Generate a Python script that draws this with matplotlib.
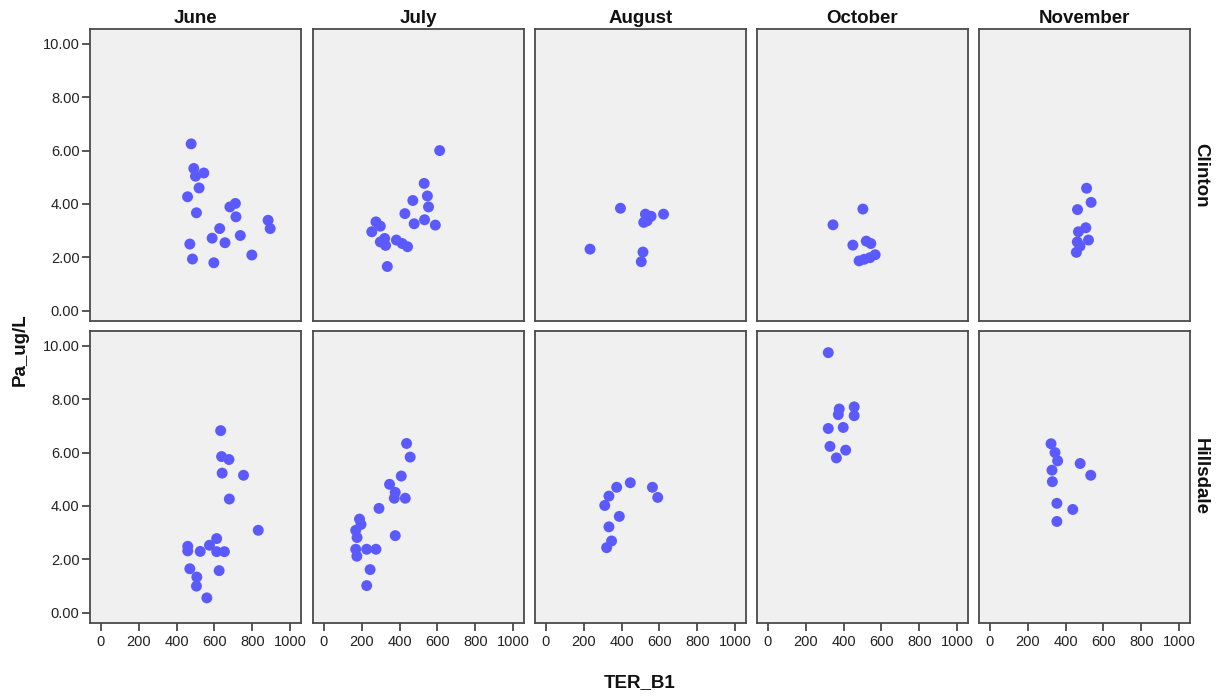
import matplotlib
matplotlib.use("Agg")
import matplotlib.pyplot as plt

plt.rcParams['font.family'] = ['Liberation Sans', 'DejaVu Sans']

months = ["June", "July", "August", "October", "November"]
sites = ["Clinton", "Hillsdale"]

# Clinton
june_clinton_x = [477, 491, 500, 544, 519, 458, 505, 711, 682, 714, 884, 895, 628, 737, 588, 656, 470, 798, 484, 597]
june_clinton_y = [6.25, 5.33, 5.04, 5.16, 4.60, 4.27, 3.67, 4.02, 3.89, 3.52, 3.39, 3.08, 3.08, 2.82, 2.72, 2.55, 2.50, 2.09, 1.94, 1.80]
july_clinton_x = [612, 530, 547, 553, 470, 428, 477, 532, 589, 275, 298, 253, 321, 298, 326, 383, 414, 442, 335]
july_clinton_y = [6.00, 4.77, 4.30, 3.89, 4.13, 3.64, 3.26, 3.41, 3.21, 3.33, 3.17, 2.96, 2.71, 2.58, 2.45, 2.65, 2.52, 2.40, 1.66]
august_clinton_x = [394, 526, 556, 622, 517, 535, 233, 513, 504]
august_clinton_y = [3.84, 3.62, 3.54, 3.62, 3.31, 3.37, 2.31, 2.20, 1.84]
october_clinton_x = [502, 344, 449, 520, 544, 567, 539, 482, 509]
october_clinton_y = [3.81, 3.22, 2.46, 2.61, 2.52, 2.10, 1.99, 1.87, 1.93]
november_clinton_x = [511, 535, 463, 507, 468, 521, 462, 476, 457]
november_clinton_y = [4.59, 4.06, 3.79, 3.11, 2.96, 2.65, 2.58, 2.42, 2.19]

# Hillsdale
june_hillsdale_x = [633, 638, 677, 641, 754, 679, 832, 612, 459, 459, 525, 574, 612, 653, 470, 625, 507, 505, 560]
june_hillsdale_y = [6.82, 5.85, 5.74, 5.23, 5.15, 4.26, 3.09, 2.78, 2.49, 2.32, 2.30, 2.53, 2.29, 2.29, 1.65, 1.58, 1.34, 1.00, 0.56]
july_hillsdale_x = [437, 456, 409, 347, 377, 372, 430, 291, 188, 196, 168, 175, 377, 168, 226, 275, 174, 244, 226]
july_hillsdale_y = [6.34, 5.83, 5.12, 4.81, 4.51, 4.29, 4.29, 3.91, 3.51, 3.31, 3.09, 2.82, 2.89, 2.38, 2.38, 2.38, 2.12, 1.62, 1.02]
august_hillsdale_x = [446, 374, 333, 311, 563, 591, 388, 333, 347, 321]
august_hillsdale_y = [4.87, 4.70, 4.37, 4.02, 4.70, 4.32, 3.61, 3.22, 2.69, 2.44]
october_hillsdale_x = [319, 377, 372, 456, 456, 319, 398, 328, 411, 362]
october_hillsdale_y = [9.74, 7.63, 7.42, 7.71, 7.38, 6.90, 6.94, 6.23, 6.09, 5.80]
november_hillsdale_x = [323, 344, 358, 477, 328, 533, 330, 354, 438, 354]
november_hillsdale_y = [6.33, 6.00, 5.69, 5.59, 5.34, 5.15, 4.91, 4.10, 3.87, 3.42]

data = {
    ("Clinton", "June"): (june_clinton_x, june_clinton_y),
    ("Clinton", "July"): (july_clinton_x, july_clinton_y),
    ("Clinton", "August"): (august_clinton_x, august_clinton_y),
    ("Clinton", "October"): (october_clinton_x, october_clinton_y),
    ("Clinton", "November"): (november_clinton_x, november_clinton_y),
    ("Hillsdale", "June"): (june_hillsdale_x, june_hillsdale_y),
    ("Hillsdale", "July"): (july_hillsdale_x, july_hillsdale_y),
    ("Hillsdale", "August"): (august_hillsdale_x, august_hillsdale_y),
    ("Hillsdale", "October"): (october_hillsdale_x, october_hillsdale_y),
    ("Hillsdale", "November"): (november_hillsdale_x, november_hillsdale_y),
}

x_ticks = [0, 200, 400, 600, 800, 1000]
y_ticks = [0, 2, 4, 6, 8, 10]

W, H = 1220, 697
fig = plt.figure(figsize=(W / 100, H / 100), dpi=100)

col_left = [90, 313, 535, 757, 979]
pw = 211
row_top = [29, 331]
ph = 292

edge = '#4a4a4a'
for r, site in enumerate(sites):
    for c, month in enumerate(months):
        l = col_left[c] / W
        b = 1 - (row_top[r] + ph) / H
        ax = fig.add_axes([l, b, pw / W, ph / H])
        ax.set_facecolor('#f0f0f0')
        xs, ys = data[(site, month)]
        ax.scatter(xs, ys, s=62, color='#5a5aff', edgecolors='none', zorder=3)
        ax.set_xlim(-58, 1058)
        ax.set_ylim(-0.38, 10.55)
        for sp in ax.spines.values():
            sp.set_color(edge)
            sp.set_linewidth(1.3)
        ax.tick_params(direction='out', length=6, width=1.3, color=edge,
                       labelsize=10.5, labelcolor='#222222')
        if c == 0:
            ax.set_yticks(y_ticks)
            ax.set_yticklabels([f"{v:.2f}" for v in y_ticks])
            ax.tick_params(axis='y', pad=1.5)
        else:
            ax.set_yticks([])
        if r == 1:
            ax.set_xticks(x_ticks)
            ax.set_xticklabels([str(v) for v in x_ticks])
            ax.tick_params(axis='x', pad=3)
        else:
            ax.set_xticks([])
        if r == 0:
            ax.set_title(month, fontsize=13.5, fontweight='bold', pad=4.5, color='#111111')
        if c == len(months) - 1:
            ax.text(1.05, 0.5, site, transform=ax.transAxes, rotation=270,
                    ha='center', va='center', fontsize=13.5, fontweight='bold', color='#111111')

fig.text(20 / W, 1 - 350 / H, "Pa_ug/L", rotation=90, ha='center', va='center',
         fontsize=13.5, fontweight='bold', color='#111111')
fig.text(640 / W, 1 - 683 / H, "TER_B1", ha='center', va='center',
         fontsize=13.5, fontweight='bold', color='#111111')

fig.savefig("out.png", dpi=100, facecolor='white')
